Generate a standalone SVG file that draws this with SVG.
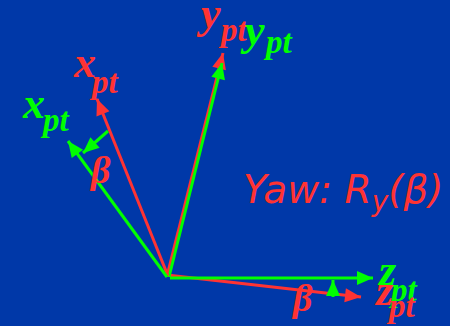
<svg xmlns="http://www.w3.org/2000/svg" width="450" height="326" viewBox="0 0 450 326">
<defs>
<style>
.r{stroke:#ff3333;stroke-width:3;fill:none}
.g{stroke:#00ff00;stroke-width:3;fill:none}
.lab{font-family:"Liberation Serif",serif;font-weight:bold;font-style:italic}
.big{font-size:44px}
.sub{font-size:33px}
.rt{fill:#ff3333}
.gt{fill:#00ff00}
.beta{font-family:"Liberation Serif",serif;font-style:italic;font-weight:bold;font-size:38px;fill:#ff3333}
.yaw{font-family:"DejaVu Sans",sans-serif;font-style:italic;fill:#ff3333}
</style>
<marker id="ar" markerUnits="userSpaceOnUse" markerWidth="20" markerHeight="16" viewBox="0 0 20 16" refX="18" refY="8" orient="auto"><path d="M2,1 L18,8 L2,15 Z" fill="#ff3333"/></marker>
<marker id="ag" markerUnits="userSpaceOnUse" markerWidth="20" markerHeight="16" viewBox="0 0 20 16" refX="18" refY="8" orient="auto"><path d="M2,1 L18,8 L2,15 Z" fill="#00ff00"/></marker>
</defs>
<rect width="450" height="326" fill="#0038a8"/>
<g id="connectors">
<line class="r" x1="167" y1="275" x2="361" y2="297" marker-end="url(#ar)"/>
<line class="g" x1="170" y1="278" x2="373" y2="278" marker-end="url(#ag)"/>
<line class="r" x1="167" y1="276" x2="223" y2="53" marker-end="url(#ar)"/>
<line class="g" x1="169" y1="277" x2="222" y2="63" marker-end="url(#ag)"/>
<line class="r" x1="168" y1="276" x2="97" y2="99" marker-end="url(#ar)"/>
<line class="g" x1="167" y1="277" x2="68" y2="141" marker-end="url(#ag)"/>
<line class="g" x1="108" y1="131" x2="83" y2="153" marker-end="url(#ag)"/>
<line class="g" x1="333" y1="297" x2="333" y2="280" marker-end="url(#ag)"/>
</g>
<g id="label-x-red"><text class="lab rt" x="74" y="77"><tspan class="big">x</tspan><tspan class="sub" x="92" y="93">pt</tspan></text></g>
<g id="label-x-green"><text class="lab gt" x="23" y="118"><tspan class="big">x</tspan><tspan class="sub" x="43" y="131">pt</tspan></text></g>
<g id="label-y-red"><text class="lab rt" x="201" y="28"><tspan class="big">y</tspan><tspan class="sub" x="221" y="41">pt</tspan></text></g>
<g id="label-y-green"><text class="lab gt" x="245" y="45"><tspan class="big">y</tspan><tspan class="sub" x="266" y="53">pt</tspan></text></g>
<g id="label-z-green"><text class="lab gt" x="379" y="285"><tspan class="big">z</tspan><tspan class="sub" x="391" y="301">pt</tspan></text></g>
<g id="label-z-red"><text class="lab rt" x="376" y="305"><tspan class="big">z</tspan><tspan class="sub" x="389" y="317">pt</tspan></text></g>
<g id="beta-x"><text class="beta" x="91" y="183">β</text></g>
<g id="beta-z"><text class="beta" x="293" y="311">β</text></g>
<g id="title"><text class="yaw" x="243" y="203" font-size="39">Yaw: R<tspan font-size="28" dy="8">y</tspan><tspan dy="-8">(β)</tspan></text></g>
</svg>
